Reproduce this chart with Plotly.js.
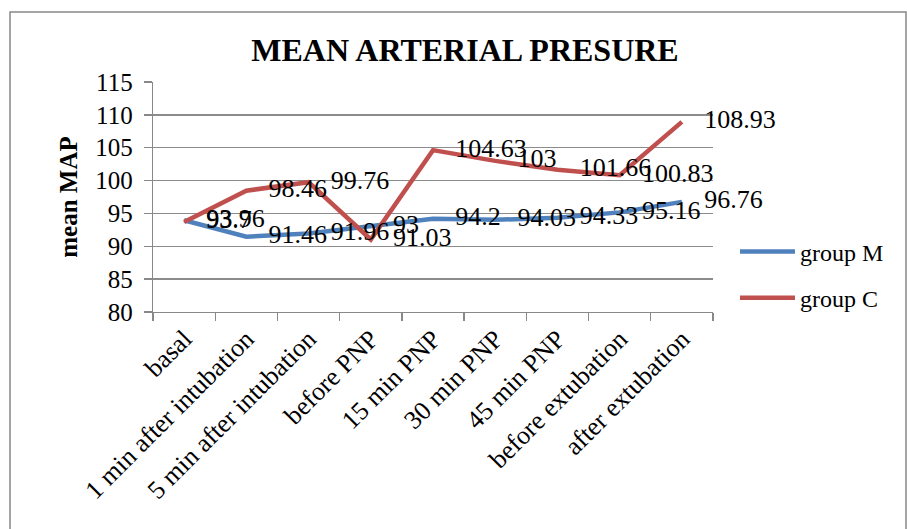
<!DOCTYPE html>
<html>
<head>
<meta charset="utf-8">
<script src="https://cdn.plot.ly/plotly-3.0.1.min.js"></script>
<style>html,body{margin:0;padding:0;background:#fff;}#chart{width:907px;height:529px;}</style>
</head>
<body>
<div id="chart"></div>
<script>
var categories = ["basal", "1 min after intubation", "5 min after intubation", "before PNP", "15 min PNP", "30 min PNP", "45 min PNP", "before extubation", "after extubation"];
var groupM = [93.96, 91.46, 91.96, 93, 94.2, 94.03, 94.33, 95.16, 96.76];
var groupC = [93.7, 98.46, 99.76, 91.03, 104.63, 103, 101.66, 100.83, 108.93];
var yTicks = [80, 85, 90, 95, 100, 105, 110, 115];

var FONT = "Liberation Serif";

function lineTrace(name, values, color, group) {
  return {
    x: categories, y: values, name: name, type: "scatter", mode: "lines",
    line: {color: color, width: 4.5}, legendgroup: group
  };
}
function labelTrace(values) {
  return {
    x: categories, y: values, type: "scatter", mode: "markers+text",
    text: values.map(String), textposition: "middle right",
    textfont: {family: FONT, size: 26, color: "#000"},
    marker: {size: 34, color: "rgba(0,0,0,0)", line: {width: 0}},
    showlegend: false, cliponaxis: false, hoverinfo: "skip"
  };
}

var traces = [
  lineTrace("group M", groupM, "#4F81BD", "m"),
  lineTrace("group C", groupC, "#C0504D", "c"),
  labelTrace(groupM),
  labelTrace(groupC)
];

var L = 153, R = 713, T = 82, B = 312;
var W = 907, H = 529;
function px(xp) { return (xp - L) / (R - L); }
function py(yp) { return (B - yp) / (B - T); }

var layout = {
  width: W, height: H,
  margin: {l: L, r: W - R, t: T, b: H - B},
  paper_bgcolor: "#fff", plot_bgcolor: "#fff",
  font: {family: FONT, size: 24, color: "#000"},
  title: {
    text: "<b>MEAN ARTERIAL PRESURE</b>",
    font: {family: FONT, size: 32, color: "#000"},
    x: 465 / W, xref: "container", xanchor: "center",
    y: 1 - 50 / H, yref: "container", yanchor: "middle"
  },
  xaxis: {
    type: "category", categoryorder: "array", categoryarray: categories,
    range: [-0.5, categories.length - 0.5], autorange: false,
    tickangle: -45, tickfont: {family: FONT, size: 26, color: "#000"},
    showline: true, linecolor: "#888", linewidth: 1.3,
    ticks: "outside", ticklen: 8, tickcolor: "#888", tickwidth: 1.3,
    tickson: "boundaries", showgrid: false, zeroline: false,
    automargin: false, fixedrange: true
  },
  yaxis: {
    range: [80, 115], autorange: false, tickvals: yTicks, ticktext: yTicks.map(String),
    tickfont: {family: FONT, size: 25, color: "#000"},
    showline: true, linecolor: "#888", linewidth: 1.3,
    ticks: "outside", ticklen: 8, tickcolor: "#888", tickwidth: 1.3,
    showgrid: true, gridcolor: "#8c8c8c", gridwidth: 1.3, zeroline: false,
    ticklabelstandoff: 6,
    title: {text: "<b>mean MAP</b>", font: {family: FONT, size: 25, color: "#000"}, standoff: 10},
    automargin: false, fixedrange: true
  },
  showlegend: true,
  legend: {
    x: px(735), xanchor: "left", y: py(275), yanchor: "middle",
    font: {family: FONT, size: 24, color: "#000"},
    bgcolor: "rgba(0,0,0,0)", borderwidth: 0,
    traceorder: "grouped", tracegroupgap: 12, itemwidth: 55
  },
  shapes: [
    {type: "rect", xref: "paper", yref: "paper",
     x0: px(10), x1: px(906), y0: py(540), y1: py(12),
     line: {color: "#888", width: 1.5}, fillcolor: "rgba(0,0,0,0)", layer: "below"}
  ]
};

Plotly.newPlot("chart", traces, layout, {displayModeBar: false, staticPlot: true});
</script>
</body>
</html>
